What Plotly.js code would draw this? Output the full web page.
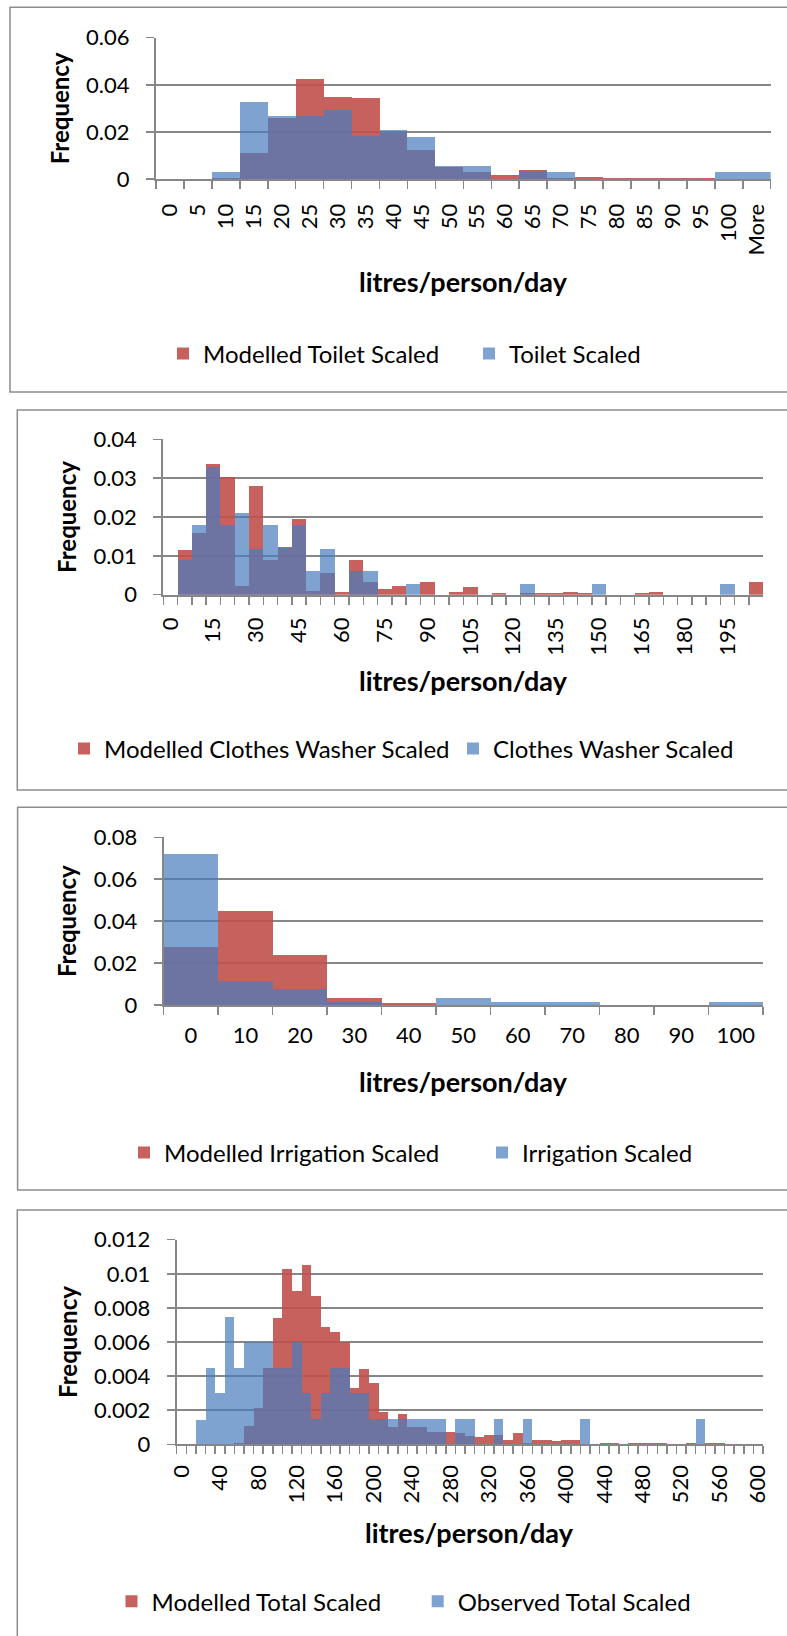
<!DOCTYPE html>
<html><head><meta charset="utf-8">
<script src="https://cdn.plot.ly/plotly-3.0.1.min.js"></script>
<style>html,body{margin:0;padding:0;background:#fff}#chart{width:787px;height:1636px}</style>
</head><body><div id="chart"></div>
<script>
// ---------- DATA ----------
const toiletBins = ['0','5','10','15','20','25','30','35','40','45','50','55','60','65','70','75','80','85','90','95','100','More'];
const toiletModelled = [0,0,0.0005,0.0112,0.026,0.0424,0.035,0.0343,0.0196,0.0125,0.005,0.003,0.0017,0.0038,0.0004,0.001,0.0003,0.0005,0.0005,0.0005,0,0];
const toiletObserved = [0,0,0.003,0.0329,0.0267,0.0267,0.0294,0.0182,0.0207,0.018,0.0057,0.0057,0,0.0033,0.0031,0,0,0,0,0,0.0031,0.0031];
const toiletTickText = ['0','5','10','15','20','25','30','35','40','45','50','55','60','65','70','75','80','85','90','95','100','More'];

const washerBins = ['0','5','10','15','20','25','30','35','40','45','50','55','60','65','70','75','80','85','90','95','100','105','110','115','120','125','130','135','140','145','150','155','160','165','170','175','180','185','190','195','200','More'];
const washerModelled = [0,0.0114,0.016,0.0336,0.0304,0.0023,0.028,0.009,0.0122,0.0195,0.001,0.0056,0.0006,0.0089,0.0032,0.0015,0.0023,0,0.0032,0,0.0007,0.002,0,0.0004,0,0.0005,0.0004,0.0004,0.0007,0.0004,0,0,0,0.0004,0.0007,0,0,0,0,0,0,0.0032];
const washerObserved = [0,0.009,0.0179,0.0329,0.018,0.021,0.0118,0.018,0.0119,0.018,0.006,0.0118,0,0.006,0.006,0,0,0.0027,0,0,0,0,0,0,0,0.0027,0,0,0,0,0.0027,0,0,0,0,0,0,0,0,0.0027,0,0];
const washerTickText = ['0','','','15','','','30','','','45','','','60','','','75','','','90','','','105','','','120','','','135','','','150','','','165','','','180','','','195','',''];

const irrigBins = ['0','10','20','30','40','50','60','70','80','90','100'];
const irrigModelled = [0.0275,0.045,0.0237,0.0032,0.0008,0,0,0,0,0,0];
const irrigObserved = [0.0719,0.0116,0.0078,0.0014,0.0002,0.0032,0.0014,0.0014,0,0,0.0014];
const irrigTickText = ['0','10','20','30','40','50','60','70','80','90','100'];

const totalBins = ['0','10','20','30','40','50','60','70','80','90','100','110','120','130','140','150','160','170','180','190','200','210','220','230','240','250','260','270','280','290','300','310','320','330','340','350','360','370','380','390','400','410','420','430','440','450','460','470','480','490','500','510','520','530','540','550','560','570','580','590','600'];
const totalModelled = [0,0,0,0,0,0,0.00006,0.0011,0.0021,0.0045,0.0074,0.0103,0.009,0.0105,0.0087,0.0069,0.0066,0.006,0.0033,0.0044,0.0036,0.0019,0.001,0.0018,0.001,0.001,0.0007,0.0007,0.0007,0.00066,0.00047,0.0004,0.00056,0.00056,0.00027,0.00066,0.0001,0.00027,0.00027,0.00017,0.00027,0.00027,0,0,0.0001,0.0001,0,0.0001,0.0001,0.0001,0.0001,0,0,0.0001,0,0.0001,0.0001,0,0,0,0];
const totalObserved = [0,0,0.00145,0.00446,0.003,0.00745,0.00446,0.006,0.006,0.006,0.00446,0.00446,0.006,0.003,0.0015,0.003,0.0045,0.0045,0.003,0.003,0.0015,0.0015,0.0015,0.0015,0.0015,0.0015,0.0015,0.0015,0,0.0015,0.0015,0,0,0.0015,0,0,0.0015,0,0,0,0,0,0.0015,0,0,0,0,0,0,0,0,0,0,0,0.0015,0,0,0,0,0,0];
const totalTickText = ['0','','','','40','','','','80','','','','120','','','','160','','','','200','','','','240','','','','280','','','','320','','','','360','','','','400','','','','440','','','','480','','','','520','','','','560','','','','600'];

const yTicks1 = [0,0.02,0.04,0.06];       const yText1 = ['0','0.02','0.04','0.06'];
const yTicks2 = [0,0.01,0.02,0.03,0.04];  const yText2 = ['0','0.01','0.02','0.03','0.04'];
const yTicks3 = [0,0.02,0.04,0.06,0.08];  const yText3 = ['0','0.02','0.04','0.06','0.08'];
const yTicks4 = [0,0.002,0.004,0.006,0.008,0.01,0.012]; const yText4 = ['0','0.002','0.004','0.006','0.008','0.01','0.012'];

const seriesNames = [
  ['Modelled Toilet Scaled','Toilet Scaled'],
  ['Modelled Clothes Washer Scaled','Clothes Washer Scaled'],
  ['Modelled Irrigation Scaled','Irrigation Scaled'],
  ['Modelled Total Scaled','Observed Total Scaled']
];
const xTitle = 'litres/person/day';
const yTitle = 'Frequency';

// ---------- LAYOUT / STYLE ----------
const W = 787, H = 1636;
const FONT = 'Lato, "Open Sans", sans-serif';
const GREY = '#878787';
const RED = 'rgba(192,80,77,0.9)';
const BLUE = 'rgba(72,124,190,0.7)';
const fx = p => p / W;
const fy = p => 1 - p / H;

const panels = [
  {bins: toiletBins, tt: toiletTickText, red: toiletModelled, blue: toiletObserved, yv: yTicks1, yt: yText1, ymax: 0.06,
   plot: [156, 37.7, 770.7, 179], box: [10, 7.3, 800, 392], angle: -90, lsx: [178, 484], ly: 354, tstand: 14, ty: 281.7},
  {bins: washerBins, tt: washerTickText, red: washerModelled, blue: washerObserved, yv: yTicks2, yt: yText2, ymax: 0.04,
   plot: [163.3, 439.3, 763.3, 594.7], box: [17.3, 410, 800, 790], angle: -90, lsx: [79, 468], ly: 749, tstand: 12, ty: 680.5},
  {bins: irrigBins, tt: irrigTickText, red: irrigModelled, blue: irrigObserved, yv: yTicks3, yt: yText3, ymax: 0.08,
   plot: [163.7, 837.3, 763, 1005], box: [17.6, 807.3, 800, 1190], angle: 0, lsx: [139, 497], ly: 1153, tstand: 10, ty: 1081},
  {bins: totalBins, tt: totalTickText, red: totalModelled, blue: totalObserved, yv: yTicks4, yt: yText4, ymax: 0.012,
   plot: [176.7, 1239.7, 763, 1444.3], box: [17.3, 1210, 800, 1700], angle: -90, lsx: [126.5, 432.7], ly: 1601.7, tstand: 10, ty: 1532.7}
];

const traces = [];
const layout = {
  width: W, height: H,
  margin: {l: 0, r: 0, t: 0, b: 0, pad: 0},
  paper_bgcolor: '#ffffff', plot_bgcolor: 'rgba(0,0,0,0)',
  barmode: 'overlay', bargap: 0,
  font: {family: FONT, size: 22, color: '#000'},
  showlegend: true,
  shapes: [], annotations: [],
  hovermode: false
};

panels.forEach((p, i) => {
  const n = i === 0 ? '' : String(i + 1);
  const xa = 'x' + n, ya = 'y' + n;
  const legR = 'legend' + (2 * i + 1 === 1 ? '' : String(2 * i + 1));
  const legB = 'legend' + String(2 * i + 2);
  traces.push({type: 'bar', x: p.bins, y: p.red, name: seriesNames[i][0], xaxis: xa, yaxis: ya,
    marker: {color: RED, line: {width: 0}}, legend: legR});
  traces.push({type: 'bar', x: p.bins, y: p.blue, name: seriesNames[i][1], xaxis: xa, yaxis: ya,
    marker: {color: BLUE, line: {width: 0}}, legend: legB});

  const [x0, y0, x1, y1] = p.plot;
  layout['xaxis' + n] = {
    type: 'category', anchor: ya, domain: [fx(x0), fx(x1)],
    range: [-0.5, p.bins.length - 0.5], fixedrange: true,
    tickmode: 'array', tickvals: p.bins, ticktext: p.tt, tickson: 'boundaries',
    ticks: 'outside', ticklen: 8, tickwidth: 1.5, tickcolor: GREY,
    tickangle: p.angle, ticklabelstandoff: p.tstand,
    tickfont: {family: FONT, size: 22, color: '#000'},
    showline: true, linecolor: GREY, linewidth: 2, showgrid: false, zeroline: false,
    automargin: false
  };
  // x-axis title, placed at a fixed position below the tick labels
  layout.annotations.push({text: xTitle, xref: 'paper', yref: 'paper', x: fx((x0 + x1) / 2), y: fy(p.ty),
    xanchor: 'center', yanchor: 'middle', showarrow: false,
    font: {family: FONT, size: 27, color: '#000', weight: 'bold'}});
  layout['yaxis' + n] = {
    anchor: xa, domain: [fy(y1), fy(y0)], range: [0, p.ymax], fixedrange: true,
    tickmode: 'array', tickvals: p.yv, ticktext: p.yt,
    ticks: 'outside', ticklen: 8, tickwidth: 1.5, tickcolor: GREY, ticklabelstandoff: 12,
    tickfont: {family: FONT, size: 22, color: '#000'},
    showline: true, linecolor: GREY, linewidth: 2,
    showgrid: true, gridcolor: GREY, gridwidth: 1.5, zeroline: false, automargin: false,
    title: {text: yTitle, font: {family: FONT, size: 24, color: '#000', weight: 'bold'}, standoff: 10}
  };
  const [bx0, by0, bx1, by1] = p.box;
  layout.shapes.push({type: 'rect', xref: 'paper', yref: 'paper', x0: fx(bx0), x1: fx(bx1), y0: fy(by1), y1: fy(by0),
    line: {color: '#8c8c8c', width: 1.5}, fillcolor: 'rgba(0,0,0,0)', layer: 'below'});
  [legR, legB].forEach((lg, k) => {
    layout[lg] = {x: fx(p.lsx[k] - 15), xanchor: 'left', y: fy(p.ly), yanchor: 'middle',
      orientation: 'h', bgcolor: 'rgba(0,0,0,0)', borderwidth: 0,
      font: {family: FONT, size: 24, color: '#000'}, itemclick: false, itemdoubleclick: false};
  });
});

Plotly.newPlot('chart', traces, layout, {staticPlot: true, displayModeBar: false});
</script></body></html>
